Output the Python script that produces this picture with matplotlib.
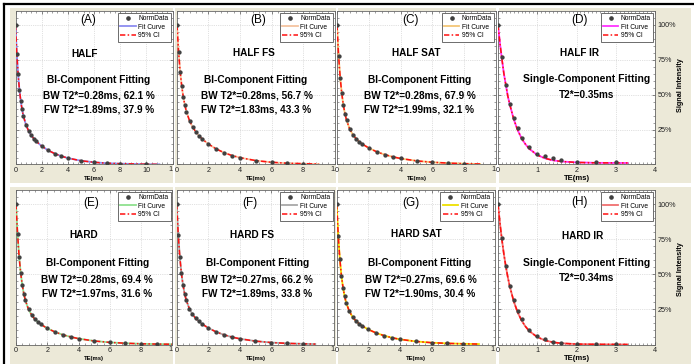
import matplotlib
matplotlib.use('Agg')
import matplotlib.pyplot as plt
from matplotlib.ticker import MultipleLocator, FixedLocator
from matplotlib.lines import Line2D

plt.rcParams['font.family'] = ['Liberation Sans', 'DejaVu Sans']

# ---------------- data ----------------
panel_letters = ['(A)', '(B)', '(C)', '(D)', '(E)', '(F)', '(G)', '(H)']
panel_names = ['HALF', 'HALF FS', 'HALF SAT', 'HALF IR',
               'HARD', 'HARD FS', 'HARD SAT', 'HARD IR']
fit_types = ['BI-Component Fitting', 'BI-Component Fitting', 'BI-Component Fitting',
             'Single-Component Fitting',
             'BI-Component Fitting', 'BI-Component Fitting', 'BI-Component Fitting',
             'Single-Component Fitting']
result_line1 = ['BW T2*=0.28ms, 62.1 %', 'BW T2*=0.28ms, 56.7 %', 'BW T2*=0.28ms, 67.9 %',
                'T2*=0.35ms',
                'BW T2*=0.28ms, 69.4 %', 'BW T2*=0.27ms, 66.2 %', 'BW T2*=0.27ms, 69.6 %',
                'T2*=0.34ms']
result_line2 = ['FW T2*=1.89ms, 37.9 %', 'FW T2*=1.83ms, 43.3 %', 'FW T2*=1.99ms, 32.1 %',
                '',
                'FW T2*=1.97ms, 31.6 %', 'FW T2*=1.89ms, 33.8 %', 'FW T2*=1.90ms, 30.4 %',
                '']
legend_labels = ['NormData', 'Fit Curve', '95% CI']
x_max = [12, 10, 10, 4, 10, 10, 10, 4]
y_tick_labels = ['', '25%', '50%', '75%', '100%']
y_tick_values = [0, 0.25, 0.5, 0.75, 1.0]

te_bi = [0.01, 0.1, 0.2, 0.3, 0.4, 0.5, 0.6, 0.8, 1.0, 1.2, 1.4, 1.6,
         2.0, 2.5, 3.0, 3.5, 4.0, 5.0, 6.0, 7.0, 8.0]
te_a = te_bi + [10.0]
te_e = te_bi + [9.0]
te_ir = [0.01, 0.1, 0.2, 0.3, 0.4, 0.5, 0.6, 0.8, 1.0, 1.2, 1.4, 1.6, 2.0, 2.5, 3.0]

sig_a = [1.0, 0.794, 0.645, 0.536, 0.456, 0.395, 0.349, 0.284, 0.241, 0.209, 0.185, 0.165,
         0.132, 0.101, 0.078, 0.060, 0.046, 0.027, 0.016, 0.009, 0.006, 0.002]
sig_b = [1.0, 0.807, 0.666, 0.562, 0.484, 0.425, 0.378, 0.312, 0.267, 0.233, 0.205, 0.183,
         0.146, 0.111, 0.084, 0.064, 0.049, 0.028, 0.016, 0.009, 0.006]
sig_c = [1.0, 0.780, 0.623, 0.509, 0.425, 0.364, 0.317, 0.254, 0.213, 0.185, 0.163, 0.146,
         0.118, 0.091, 0.071, 0.055, 0.043, 0.026, 0.016, 0.010, 0.006]
sig_e = [1.0, 0.786, 0.625, 0.509, 0.424, 0.362, 0.314, 0.250, 0.210, 0.181, 0.160, 0.143,
         0.115, 0.089, 0.069, 0.054, 0.042, 0.025, 0.015, 0.009, 0.005, 0.003]
sig_f = [1.0, 0.778, 0.620, 0.506, 0.424, 0.363, 0.318, 0.256, 0.215, 0.187, 0.165, 0.147,
         0.118, 0.090, 0.069, 0.053, 0.041, 0.024, 0.014, 0.008, 0.005]
sig_g = [1.0, 0.769, 0.606, 0.489, 0.405, 0.343, 0.297, 0.236, 0.197, 0.170, 0.149, 0.133,
         0.107, 0.082, 0.063, 0.048, 0.037, 0.022, 0.013, 0.008, 0.005]
sig_d = [1.0, 0.77, 0.57, 0.43, 0.33, 0.258, 0.19, 0.122, 0.077, 0.06, 0.044, 0.032,
         0.018, 0.016, 0.016]
sig_h = [1.0, 0.76, 0.56, 0.42, 0.315, 0.24, 0.18, 0.105, 0.062, 0.037, 0.021, 0.013,
         0.006, 0.005, 0.005]

# fit curve tail points for the bi-component panels (curve continues past last echo)
fit_end_te = [11.0, 9.0, 9.0, None, 10.0, 8.8, 9.0, None]
fit_end_sig = [0.001, 0.003, 0.0035, None, 0.002, 0.003, 0.003, None]

# single-component fit curves
fit_te_ir = [0.0, 0.05, 0.1, 0.15, 0.2, 0.25, 0.3, 0.4, 0.5, 0.6, 0.7, 0.8, 1.0, 1.2,
             1.4, 1.6, 2.0, 2.5, 3.3]
fit_d = [1.0, 0.868, 0.755, 0.651, 0.57, 0.49, 0.43, 0.325, 0.247, 0.188, 0.145, 0.112,
         0.068, 0.044, 0.030, 0.022, 0.015, 0.012, 0.011]
fit_h = [1.0, 0.863, 0.745, 0.643, 0.555, 0.479, 0.414, 0.308, 0.23, 0.171, 0.128, 0.095,
         0.053, 0.029, 0.016, 0.009, 0.003, 0.001, 0.0]

fit_colors = ['#8c8cf0', '#f5c4a0', '#f3c677', '#ff33ff', '#8fe08f', '#a8a8a8',
              '#eee000', '#f07070']

te_list = [te_a, te_bi, te_bi, te_ir, te_e, te_bi, te_bi, te_ir]
sig_list = [sig_a, sig_b, sig_c, sig_d, sig_e, sig_f, sig_g, sig_h]

# ---------------- layout (pixels) ----------------
W, H = 694, 364
BEIGE = '#ECE9D8'

def fx(x):
    return x / W

def fy(y):
    return 1 - y / H

def rect(x0, y0, x1, y1):
    return [fx(x0), fy(y1), fx(x1) - fx(x0), fy(y0) - fy(y1)]

axes_px = [(15.5, 11, 172.5, 164.5), (177, 11, 334.5, 164.5), (337, 11, 496, 164.5),
           (498, 11, 655, 164.5),
           (16, 190, 172.3, 344.5), (176.7, 190, 334.2, 344.5), (336.7, 190, 494.7, 344.5),
           (498, 190, 655, 344.5)]
bg_px = [(10, 8, 172.5, 182.5), (174.5, 8, 335.5, 182.5), (337.8, 8, 496.5, 182.5),
         (498.7, 8, 691, 182.5),
         (10, 187, 172.5, 364), (174.5, 187, 335.5, 364), (337.8, 187, 496.5, 364),
         (498.7, 187, 691, 364)]

letter_xy = [(88, 20), (258, 20), (411, 20), (579, 20),
             (90.7, 202.7), (250, 202.7), (411, 202.7), (580, 202)]
name_xy = [(85, 54), (254, 53.3), (416, 53), (579, 53),
           (84, 235), (251.7, 235), (416, 234), (583, 236)]
fit_xy = [(99, 80), (256, 80), (420, 80), (587, 79),
          (98, 262.7), (258, 262.7), (419.7, 263), (587, 262.7)]
l1_xy = [(99, 96), (256.7, 96), (420, 96), (587, 95),
         (97, 279), (257, 279), (421, 279), (587, 278.3)]
l2_xy = [(99, 110), (256, 110), (419, 110), None,
         (97, 293.3), (257, 293.3), (420, 293.3), None]

fig = plt.figure(figsize=(W / 100, H / 100), dpi=100)
fig.patch.set_facecolor('white')

for i in range(8):
    bg = fig.add_axes(rect(*bg_px[i]))
    bg.set_facecolor(BEIGE)
    bg.set_xticks([])
    bg.set_yticks([])
    for s in bg.spines.values():
        s.set_visible(False)
    bg.set_zorder(2 * i)

    ax = fig.add_axes(rect(*axes_px[i]))
    ax.set_zorder(2 * i + 1)
    ax.set_facecolor('white')
    te = te_list[i]
    sig = sig_list[i]
    if i in (3, 7):
        fte = fit_te_ir
        fsig = fit_d if i == 3 else fit_h
    else:
        fte = [0.0] + te[1:] + [fit_end_te[i]]
        fsig = [1.0] + sig[1:] + [fit_end_sig[i]]
    ax.plot(fte, fsig, color=fit_colors[i], lw=1.3, label=legend_labels[1], zorder=3)
    ax.plot(fte, fsig, color='#ff1010', lw=1.1, ls=(0, (3.5, 1.5, 1, 1.5)),
            label=legend_labels[2], zorder=4)
    ax.plot(te, sig, ls='none', marker='o', ms=2.1, color='#404040', mec='#404040',
            label=legend_labels[0], zorder=5)

    xm = x_max[i]
    ax.set_xlim(0, xm)
    ax.set_ylim(0, 1.1)
    step = 1 if xm == 4 else 2
    xt = list(range(0, xm + 1, step))
    ax.set_xticks(xt)
    if xm == 4:
        ax.set_xticklabels([str(t) for t in xt])
        ax.xaxis.set_minor_locator(MultipleLocator(0.1))
    else:
        # last label is cut by the neighbouring panel: only its first digit shows
        ax.set_xticklabels([str(t) for t in xt[:-1]] + [''])
        ax.text(xm, -0.012, str(xm)[0], transform=ax.get_xaxis_transform(),
                ha='right', va='top', fontsize=5.2, color='#222222', clip_on=False)
        ax.xaxis.set_minor_locator(MultipleLocator(0.4))
    ax.yaxis.set_major_locator(FixedLocator(y_tick_values))
    ax.yaxis.set_minor_locator(MultipleLocator(0.05))
    ax.grid(True, which='major', color='#c4c4c4', lw=0.5, ls=':')
    ax.tick_params(which='both', direction='in', top=True, right=True,
                   color='#555555', labelsize=5.2, pad=1.5, labelcolor='#222222')
    ax.tick_params(which='major', length=2.5, width=0.5)
    ax.tick_params(which='minor', length=1.3, width=0.4)
    if i in (3, 7):
        ax.set_yticklabels(y_tick_labels)
        ax.tick_params(axis='y', labelleft=False, labelright=True, labelsize=5.2, pad=2)
        ax.set_xlabel('TE(ms)', fontsize=5.5, fontweight='bold', labelpad=1)
    else:
        ax.set_yticklabels([])
        ax.set_xlabel('TE(ms)', fontsize=4.2, fontweight='bold', labelpad=1.5)
    for s in ax.spines.values():
        s.set_color('#666666')
        s.set_linewidth(0.6)

    handles, labels = ax.get_legend_handles_labels()
    order = [2, 0, 1]
    leg = ax.legend([handles[k] for k in order], [labels[k] for k in order],
                    loc='upper right', fontsize=4.8, frameon=True, fancybox=False,
                    edgecolor='#555555', framealpha=1, borderaxespad=0.25,
                    handlelength=2.3, handletextpad=0.4, labelspacing=0.25,
                    borderpad=0.35, markerscale=1.1)
    leg.get_frame().set_linewidth(0.6)

    # panel texts
    fig.text(fx(letter_xy[i][0]), fy(letter_xy[i][1]), panel_letters[i], ha='center',
             va='center', fontsize=8.5, zorder=30)
    fig.text(fx(name_xy[i][0]), fy(name_xy[i][1]), panel_names[i], ha='center',
             va='center', fontsize=7.2, fontweight='bold', zorder=30)
    fsz = 7.5 if i in (3, 7) else 7.3
    fig.text(fx(fit_xy[i][0]), fy(fit_xy[i][1]), fit_types[i], ha='center',
             va='center', fontsize=fsz, fontweight='bold', zorder=30)
    fig.text(fx(l1_xy[i][0]), fy(l1_xy[i][1]), result_line1[i], ha='center',
             va='center', fontsize=7.2, fontweight='bold', zorder=30)
    if l2_xy[i] is not None:
        fig.text(fx(l2_xy[i][0]), fy(l2_xy[i][1]), result_line2[i], ha='center',
                 va='center', fontsize=7.2, fontweight='bold', zorder=30)

for yc in (85, 269):
    fig.text(fx(680), fy(yc), 'Signal Intensity', rotation=90, ha='center', va='center',
             fontsize=5.2, fontweight='bold', zorder=30)

# outer black frame (left and top)
fig.add_artist(Line2D([fx(3.5), fx(3.5)], [0, fy(3.5)], transform=fig.transFigure,
                      color='black', lw=1.6, zorder=40))
fig.add_artist(Line2D([fx(3.5), 1], [fy(3.5), fy(3.5)], transform=fig.transFigure,
                      color='black', lw=1.6, zorder=40))

fig.savefig('out.png', dpi=100, facecolor=fig.get_facecolor())
